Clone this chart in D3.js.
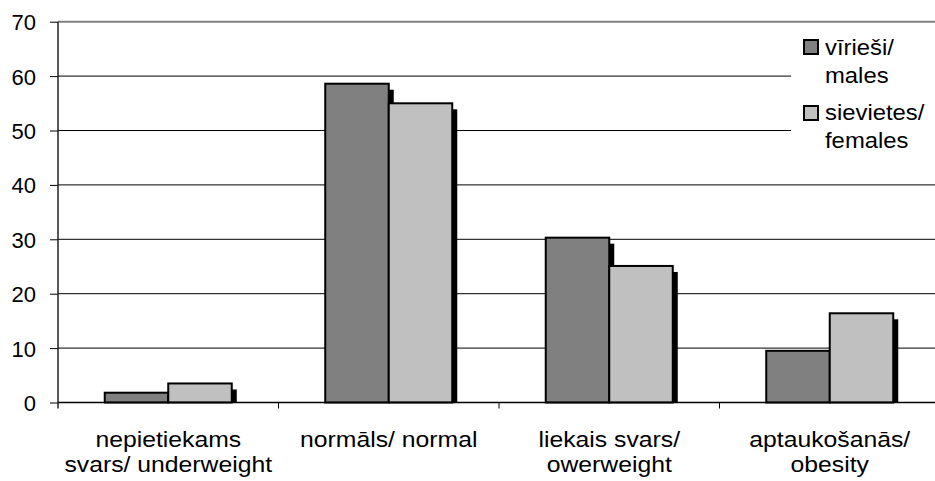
<!DOCTYPE html>
<html><head><meta charset="utf-8">
<script src="https://cdn.jsdelivr.net/npm/d3@7"></script>
<style>body{margin:0;background:#fff}svg{display:block;font-family:"Liberation Sans",Arial,sans-serif}</style>
</head><body>
<script>
const categories = [["nepietiekams","svars/ underweight"],["normāls/ normal"],["liekais svars/","owerweight"],["aptaukošanās/","obesity"]];
const seriesNames = [["vīrieši/","males"],["sievietes/","females"]];
const males = [1.8, 58.6, 30.3, 9.5];
const females = [3.5, 55.0, 25.1, 16.4];
const yTicks = [0,10,20,30,40,50,60,70];
const colors = ["#808080","#c0c0c0"];

(function(){
const W=935,H=481;
const svg=d3.select("body").append("svg").attr("width",W).attr("height",H);
const pL=58, pR=940, pT=21.7, pB=402.5;
const y=d3.scaleLinear().domain([0,70]).range([pB,pT]);
const idx=d3.range(categories.length);
const x0=d3.scaleBand().domain(idx).range([pL,pR]).paddingInner(0.424).paddingOuter(0.212);
const x1=d3.scaleBand().domain([0,1]).range([0,x0.bandwidth()]);
const series=[males,females];

// gridlines
svg.append("g").selectAll("line").data(yTicks.filter(d=>d>0)).join("line")
  .attr("x1",pL).attr("x2",W).attr("y1",d=>y(d)).attr("y2",d=>y(d))
  .attr("stroke",d=>d===70?"#808080":"#000").attr("stroke-width",d=>d===70?2:1);

// clip for shadows
svg.append("clipPath").attr("id","pc").append("rect").attr("x",pL).attr("y",0).attr("width",W).attr("height",pB);

const g=svg.append("g");
idx.forEach(i=>{
  series.forEach((s,k)=>{
    const bx=x0(i)+x1(k), bw=x1.bandwidth(), by=y(s[i]);
    g.append("rect").attr("clip-path","url(#pc)").attr("x",bx+5).attr("y",by+6).attr("width",bw).attr("height",pB-by).attr("fill","#000");
    g.append("rect").attr("x",bx).attr("y",by).attr("width",bw).attr("height",pB-by)
      .attr("fill",colors[k]).attr("stroke","#000").attr("stroke-width",2);
  });
});

// x axis
const xa=svg.append("g");
xa.append("line").attr("x1",pL).attr("x2",W).attr("y1",pB).attr("y2",pB).attr("stroke","#000").attr("stroke-width",1.5);
const bounds=idx.map(i=>x0(i)-x0.step()*x0.paddingInner()/2).slice(1);
xa.selectAll("line.t").data(bounds).join("line").attr("class","t")
  .attr("x1",d=>d).attr("x2",d=>d).attr("y1",pB).attr("y2",pB+6).attr("stroke","#000");
idx.forEach(i=>{
  const cx=x0(i)+x0.bandwidth()/2;
  const t=xa.append("g").attr("transform",`translate(${cx},0) scale(1.1,1)`)
    .append("text").attr("text-anchor","middle").attr("font-size",22.5).attr("fill","#000");
  categories[i].forEach((s,j)=>t.append("tspan").attr("x",0).attr("y",446.7+j*25).text(s));
});

// y axis
const ya=svg.append("g").attr("transform",`translate(${pL},0)`)
  .call(d3.axisLeft(y).tickValues(yTicks).tickSize(8).tickPadding(14));
ya.select(".domain").remove();
ya.selectAll(".tick line").attr("stroke","#000");
ya.selectAll(".tick text").attr("font-size",22).attr("font-family","Liberation Sans, Arial, sans-serif").attr("fill","#000").attr("dy","0.36em");
svg.append("line").attr("x1",pL).attr("x2",pL).attr("y1",pT).attr("y2",pB+6).attr("stroke","#222").attr("stroke-width",1.5);

// legend
const lg=svg.append("g");
lg.append("rect").attr("x",791).attr("y",28).attr("width",W-791).attr("height",135).attr("fill","#fff");
seriesNames.forEach((nm,k)=>{
  const yy=40+k*66;
  lg.append("rect").attr("x",804).attr("y",yy).attr("width",14).attr("height",14).attr("fill",colors[k]).attr("stroke","#000").attr("stroke-width",2);
  const t=lg.append("g").attr("transform","translate(825,0) scale(1.06,1)")
    .append("text").attr("font-size",22.5).attr("fill","#000");
  nm.forEach((s,j)=>t.append("tspan").attr("x",0).attr("y",55+k*65+j*28).text(s));
});
})();
</script>
</body></html>
